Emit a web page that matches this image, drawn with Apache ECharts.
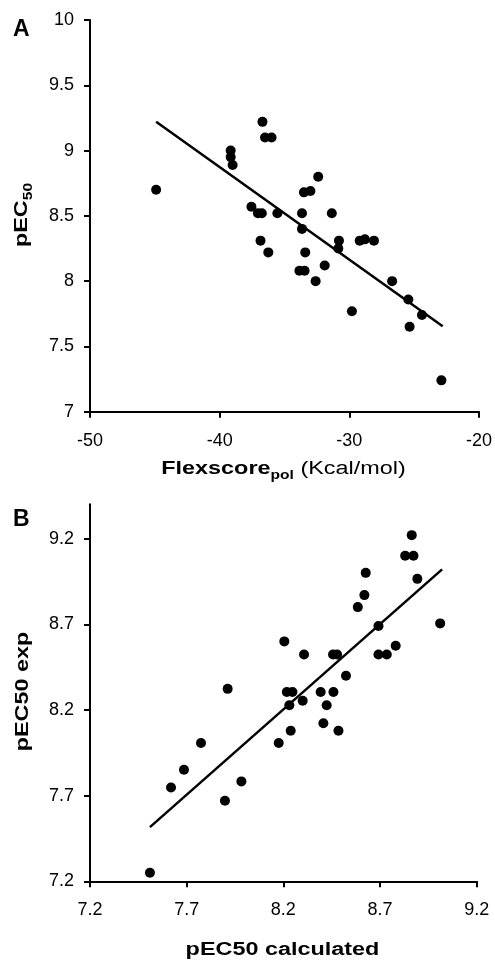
<!DOCTYPE html>
<html>
<head>
<meta charset="utf-8">
<script src="https://cdn.jsdelivr.net/npm/echarts@6/dist/echarts.min.js"></script>
<style>
  html, body { margin: 0; padding: 0; background: #fff; }
  #main { width: 495px; height: 960px; }
</style>
</head>
<body>
<div id="main"></div>
<script>
// panel A: Flexscore_pol vs pEC50
var flexA = [-44.9, -36.7, -36.5, -36.0, -39.15, -39.15, -39.0, -32.4, -33.5, -33.0,
  -37.55, -37.05, -36.75, -35.55, -33.65, -31.35, -33.65, -36.85, -36.25, -33.4,
  -30.8, -30.85, -29.2, -28.8, -28.1, -33.85, -33.45, -31.9, -32.6, -26.7,
  -29.8, -25.45, -24.4, -25.35, -22.9];
var pecA = [8.70, 9.22, 9.10, 9.10, 9.00, 8.95, 8.89, 8.80, 8.68, 8.69,
  8.57, 8.52, 8.52, 8.52, 8.52, 8.52, 8.40, 8.31, 8.22, 8.22,
  8.31, 8.25, 8.31, 8.32, 8.31, 8.08, 8.08, 8.12, 8.00, 8.00,
  7.77, 7.86, 7.74, 7.65, 7.24];
var fitA = [[-44.9, 9.22], [-22.8, 7.655]];

// panel B: calculated vs experimental pEC50
var calcB = [8.864, 8.83, 8.873, 8.626, 8.893, 8.619, 8.585, 9.011, 8.692, 8.205,
  8.781, 8.692, 8.735, 8.307, 8.457, 8.478, 8.524, 7.912, 8.218, 8.247,
  8.393, 8.459, 8.30, 8.231, 8.424, 8.407, 8.238, 8.485, 7.774, 8.176,
  7.686, 7.619, 7.983, 7.898, 7.51];
var expB = [9.22, 9.10, 9.10, 9.00, 8.965, 8.87, 8.80, 8.705, 8.69, 8.60,
  8.575, 8.523, 8.523, 8.523, 8.523, 8.523, 8.40, 8.323, 8.305, 8.305,
  8.305, 8.305, 8.254, 8.227, 8.227, 8.122, 8.079, 8.079, 8.007, 8.007,
  7.851, 7.747, 7.783, 7.67, 7.25];
var fitB = [[7.51, 7.516], [9.021, 9.02]];

var ticksB = [7.2, 7.7, 8.2, 8.7, 9.2];

function pairs(xs, ys) {
  return xs.map(function (x, i) { return [x, ys[i]]; });
}

var font = 'Liberation Sans, Arial, sans-serif';
var axisCommon = {
  axisLine: { lineStyle: { color: '#000', width: 2 } },
  axisTick: { inside: false, length: 6, lineStyle: { color: '#000', width: 2 } },
  axisLabel: { color: '#000', fontSize: 18, fontFamily: font },
  splitLine: { show: false }
};
function ax(o) {
  return echarts.util.merge(echarts.util.clone(axisCommon), o, true);
}

var nameRich = {
  b: { fontSize: 18, fontWeight: 'bold', fill: '#000', fontFamily: font, verticalAlign: 'bottom', lineHeight: 20 },
  s: { fontSize: 12, fontWeight: 'bold', fill: '#000', fontFamily: font, verticalAlign: 'bottom', lineHeight: 14, padding: [0, 0, -4, 0] },
  n: { fontSize: 18, fill: '#000', fontFamily: font, verticalAlign: 'bottom', lineHeight: 20 }
};
// axis titles (the bold type in the original is set wide)
function axisTitle(text, x, y, rot) {
  return {
    type: 'text', x: x, y: y, rotation: rot || 0, scaleX: 1.3,
    style: { text: text, rich: nameRich, align: 'center', verticalAlign: 'middle',
      font: 'bold 18px ' + font, fill: '#000' }
  };
}

var chart = echarts.init(document.getElementById('main'));
chart.setOption({
  backgroundColor: '#fff',
  animation: false,
  title: [
    { text: 'A', left: 8, top: 13, textStyle: { fontSize: 23, fontWeight: 'bold', color: '#000', fontFamily: font } },
    { text: 'B', left: 8, top: 503, textStyle: { fontSize: 23, fontWeight: 'bold', color: '#000', fontFamily: font } }
  ],
  grid: [
    { left: 90, right: 15, top: 20, height: 391.7 },
    { left: 90, width: 386.7, top: 504.3, height: 377 }
  ],
  graphic: [
    axisTitle('{b|Flexscore}{s|pol}{n| (Kcal/mol)}', 283.5, 468),
    axisTitle('{b|pEC50 calculated}', 282.5, 949),
    axisTitle('{b|pEC}{s|50}', 21, 215, Math.PI / 2),
    axisTitle('{b|pEC50 exp}', 22, 691.5, Math.PI / 2)
  ],
  xAxis: [
    ax({ type: 'value', gridIndex: 0, min: -50, max: -20, interval: 10,
      axisLabel: { margin: 20 } }),
    ax({ type: 'value', gridIndex: 1, min: 7.2, max: 9.2,
      axisTick: { customValues: ticksB },
      axisLabel: { customValues: ticksB, margin: 20 } })
  ],
  yAxis: [
    ax({ type: 'value', gridIndex: 0, min: 7, max: 10, interval: 0.5,
      axisLabel: { margin: 16 } }),
    ax({ type: 'value', gridIndex: 1, min: 7.2, max: 9.4,
      axisTick: { customValues: ticksB },
      axisLabel: { customValues: ticksB, margin: 16 } })
  ],
  series: [
    { type: 'scatter', xAxisIndex: 0, yAxisIndex: 0, data: pairs(flexA, pecA),
      symbolSize: 10, itemStyle: { color: '#000', opacity: 1 } },
    { type: 'line', xAxisIndex: 0, yAxisIndex: 0, data: fitA, showSymbol: false,
      lineStyle: { color: '#000', width: 2.5 } },
    { type: 'scatter', xAxisIndex: 1, yAxisIndex: 1, data: pairs(calcB, expB),
      symbolSize: 10, itemStyle: { color: '#000', opacity: 1 } },
    { type: 'line', xAxisIndex: 1, yAxisIndex: 1, data: fitB, showSymbol: false,
      lineStyle: { color: '#000', width: 2.5 } }
  ]
});
</script>
</body>
</html>
